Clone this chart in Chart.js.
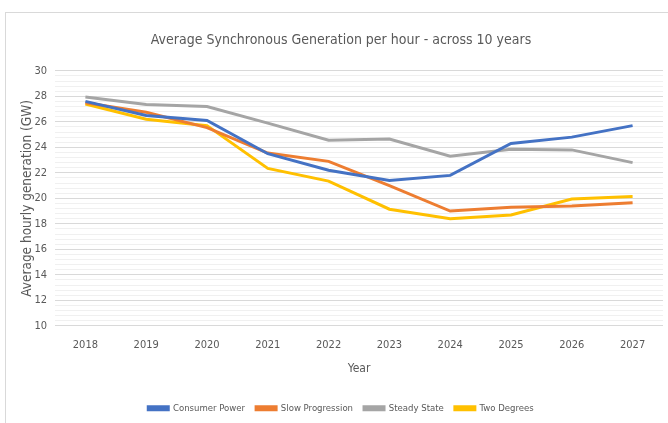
<!DOCTYPE html>
<html>
<head>
<meta charset="utf-8">
<script src="https://cdn.jsdelivr.net/npm/chart.js@4.4.0/dist/chart.umd.min.js"></script>
<style>
    html, body { margin: 0; padding: 0; background: #fff; overflow: hidden; }
    #frame { position: absolute; left: 5px; top: 12px; width: 700px; height: 440px; border: 1px solid #d9d9d9; }
    #wrap { position: absolute; left: 0; top: 0; width: 668px; height: 423px; }
</style>
</head>
<body>
<div id="frame"></div>
<div id="wrap"><canvas id="chart"></canvas></div>
<script>
// Years on the x axis
const years = ['2018', '2019', '2020', '2021', '2022', '2023', '2024', '2025', '2026', '2027'];

// Average hourly synchronous generation (GW) per scenario
const consumerPower = [27.6, 26.5, 26.1, 23.5, 22.2, 21.4, 21.8, 24.3, 24.8, 25.7];
const slowProgression = [27.5, 26.75, 25.55, 23.55, 22.9, 21.0, 19.0, 19.3, 19.4, 19.65];
const steadyState = [27.95, 27.35, 27.2, 25.9, 24.55, 24.65, 23.3, 23.85, 23.8, 22.8];
const twoDegrees = [27.4, 26.2, 25.7, 22.35, 21.35, 19.15, 18.4, 18.7, 19.95, 20.15];

const seriesNames = ['Consumer Power', 'Slow Progression', 'Steady State', 'Two Degrees'];
const seriesColors = ['#4472C4', '#ED7D31', '#A5A5A5', '#FFC000'];

const textColor = '#595959';
const fontFamily = "'DejaVu Sans Condensed', 'Open Sans', sans-serif";

// major gridline every 2 GW, minor every 0.4 GW
function isMajor(value) {
    const r = Math.round(value);
    return Math.abs(value - r) < 1e-6 && r % 2 === 0;
}

const datasets = [consumerPower, slowProgression, steadyState, twoDegrees].map((values, i) => ({
    label: seriesNames[i],
    data: values,
    borderColor: seriesColors[i],
    backgroundColor: seriesColors[i],
    borderWidth: 3,
    pointRadius: 0,
    tension: 0,
    fill: false
}));

new Chart(document.getElementById('chart'), {
    type: 'line',
    data: { labels: years, datasets: datasets },
    options: {
        responsive: true,
        maintainAspectRatio: false,
        animation: false,
        layout: { padding: { left: 19, right: 5, top: 0, bottom: 0 } },
        scales: {
            x: {
                offset: true,
                grid: { display: false },
                border: { display: false },
                ticks: { color: textColor, font: { family: fontFamily, size: 11 }, padding: 5, maxRotation: 0 },
                title: { display: true, text: 'Year', color: textColor, font: { family: fontFamily, size: 12 }, padding: { top: 5, bottom: 16 } }
            },
            y: {
                min: 10,
                max: 30,
                border: { display: false },
                grid: {
                    color: ctx => isMajor(ctx.tick.value) ? '#d9d9d9' : '#f0f0f0',
                    lineWidth: 1,
                    drawTicks: false
                },
                ticks: {
                    stepSize: 0.4,
                    autoSkip: false,
                    color: textColor,
                    padding: 8,
                    font: { family: fontFamily, size: 11 },
                    callback: value => isMajor(value) ? String(Math.round(value)) : ''
                },
                title: { display: true, text: 'Average hourly generation (GW)', color: textColor, font: { family: fontFamily, size: 13.5 }, padding: { top: 0, bottom: 1 } },
                afterFit: scale => { scale.width = 36; }
            }
        },
        plugins: {
            title: {
                display: true,
                text: 'Average Synchronous Generation per hour - across 10 years',
                color: textColor,
                font: { family: fontFamily, size: 14, weight: 'normal' },
                padding: { top: 32, bottom: 22 }
            },
            legend: {
                position: 'bottom',
                labels: {
                    color: textColor,
                    font: { family: fontFamily, size: 9.5 },
                    boxWidth: 20,
                    boxHeight: 3,
                    padding: 11
                }
            },
            tooltip: { enabled: false }
        }
    }
});
</script>
</body>
</html>
